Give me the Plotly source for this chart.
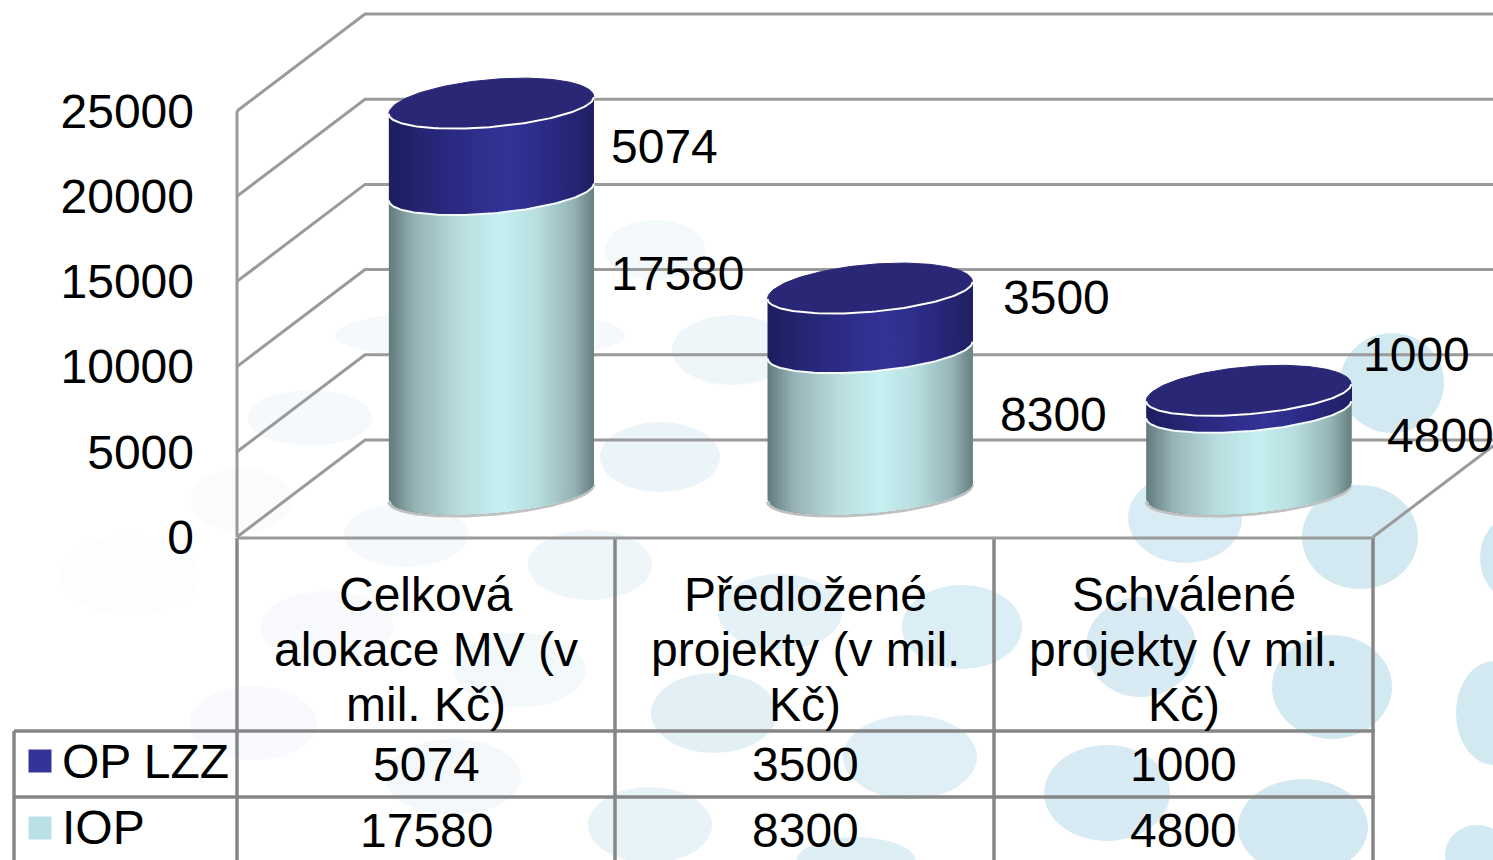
import numpy as np
import plotly.graph_objects as go

W, H = 1493, 860

categories = ["Celková alokace MV (v mil. Kč)", "Předložené projekty (v mil. Kč)", "Schválené projekty (v mil. Kč)"]
category_lines = [["Celková", "alokace MV (v", "mil. Kč)"],
                  ["Předložené", "projekty (v mil.", "Kč)"],
                  ["Schválené", "projekty (v mil.", "Kč)"]]
series_names = ["OP LZZ", "IOP"]
op_lzz = [5074, 3500, 1000]
iop = [17580, 8300, 4800]
y_ticks = [0, 5000, 10000, 15000, 20000, 25000]

# pixel calibration of the two axes
PX_PER_VAL = 426 / 25000
PX_PER_CAT = (1373 - 237) / 3
Y0_PX, X0_PX = 537, 237


def cat_at(px):
    return 0.5 + (px - X0_PX) / PX_PER_CAT


def val_at(py):
    return (Y0_PX - py) / PX_PER_VAL


DX, DY = 128 / PX_PER_CAT, 97 / PX_PER_VAL            # depth of the box
CX, CY = 65 / PX_PER_CAT, 45.5 / PX_PER_VAL           # cylinder offset
A, TILT = 102.5 / PX_PER_CAT, 8.5 / PX_PER_VAL
B_FRONT, B_BACK = 21.5 / PX_PER_VAL, 26 / PX_PER_VAL  # the lid is drawn a little asymmetrically
FONT = "Liberation Sans, Arial, sans-serif"
FS = 48
GRID = "#9a9a9a"
TABLE = "#868686"

fig = go.Figure()


def line(xs, ys, color=GRID, width=3):
    fig.add_trace(go.Scatter(x=xs, y=ys, mode="lines", line=dict(color=color, width=width),
                             hoverinfo="skip", showlegend=False))


# walls and gridlines
right_edge = cat_at(W + 5)
for v in y_ticks:
    line([0.5, 0.5 + DX, right_edge], [v, v + DY, v + DY])
line([0.5, 0.5], [0, 25000])
line([3.5, 3.5 + (W + 5 - 1373) / PX_PER_CAT], [0, (W + 5 - 1373) * 97 / 128 / PX_PER_VAL])


def ramp(stops, u):
    pos = [s[0] for s in stops]
    return "rgb(%d,%d,%d)" % tuple(int(np.interp(u, pos, [s[1][i] for s in stops])) for i in range(3))


BLUE = [(-1, (30, 30, 96)), (-0.6, (39, 39, 120)), (0.15, (52, 52, 153)), (0.6, (42, 42, 130)), (1, (32, 32, 100))]
TEAL = [(-1, (98, 124, 126)), (-0.75, (150, 178, 180)), (-0.3, (186, 222, 224)), (0.1, (198, 240, 241)),
        (0.45, (184, 222, 224)), (0.8, (150, 180, 182)), (1, (104, 128, 130))]


def arc(cx, base, us):
    us = np.asarray(us)
    return cx + A * us, base - B_FRONT * np.sqrt(np.clip(1 - us ** 2, 0, 1)) + TILT * us


def segment(cx, v0, v1, stops):
    # painter's order: each strip runs on to the right edge and is covered by the next, so no seams show
    edges = np.linspace(-1, 1, 81)
    for u0, u1 in zip(edges[:-1], edges[1:]):
        us = np.linspace(u0, 1, 30)
        xa, ya = arc(cx, v0, us)
        xb, yb = arc(cx, v1, us)
        fig.add_trace(go.Scatter(x=np.r_[xa, xb[::-1]], y=np.r_[ya, yb[::-1]], mode="lines", fill="toself",
                                 fillcolor=ramp(stops, (u0 + u1) / 2), line=dict(width=0),
                                 hoverinfo="skip", showlegend=False))


U = -np.cos(np.linspace(0, np.pi, 80))
for i in range(3):
    cx = i + 1 + CX
    low, top = iop[i], iop[i] + op_lzz[i]
    xr, yr = arc(cx, CY - 1.5 / PX_PER_VAL, U)
    line(xr, yr, "#c0c0c0", 3)
    segment(cx, CY, CY + low, TEAL)
    segment(cx, CY + low, CY + top, BLUE)
    xs, ys = arc(cx, CY + low, U)
    line(xs, ys, "#f4fbfb", 2)
    # lid
    xf, yf = arc(cx, CY + top, U)
    tb = U[::-1]
    xback = cx + A * tb
    yback = CY + top + B_BACK * np.sqrt(np.clip(1 - tb ** 2, 0, 1)) + TILT * tb
    fig.add_trace(go.Scatter(x=np.r_[xf, xback], y=np.r_[yf, yback], mode="lines", fill="toself",
                             fillcolor="#2a2876", line=dict(color="#2a2876", width=1),
                             hoverinfo="skip", showlegend=False))
    line(xf, yf, "#ffffff", 2)

# table
T_TOP, T_R1, T_R2 = 538, 731, 797
for px in [237, 615, 994, 1373]:
    line([cat_at(px)] * 2, [val_at(T_TOP), val_at(H + 5)], TABLE, 3.5)
line([cat_at(14)] * 2, [val_at(T_R1), val_at(H + 5)], TABLE, 3.5)
line([cat_at(237), cat_at(1373)], [val_at(T_TOP)] * 2, "#9a9a9a", 3)
for py in [T_R1, T_R2]:
    line([cat_at(14), cat_at(1375)], [val_at(py)] * 2, TABLE, 3.5)

# legend keys
for py, c in [(761, "#333399"), (828, "#b9e0e3")]:
    fig.add_trace(go.Scatter(x=[cat_at(40)], y=[val_at(py)], mode="markers",
                             marker=dict(symbol="square", size=23, color=c), hoverinfo="skip", showlegend=False))

ann = []


def label(x, py, text, anchor="center"):
    ann.append(dict(x=x, y=val_at(py), xref="x", yref="y", text=text, showarrow=False, xanchor=anchor,
                    yanchor="middle", font=dict(family=FONT, size=FS, color="#000000")))


for i in range(3):
    for py, t in zip([594, 649, 704], category_lines[i]):
        label(i + 1, py, t)
    label(i + 1, 764, str(op_lzz[i]))
    label(i + 1, 830, str(iop[i]))
label(cat_at(60), 761, series_names[0], "left")
label(cat_at(60), 827, series_names[1], "left")

# data labels beside the cylinders
label_spots = [(609, 146, op_lzz[0]), (609, 273, iop[0]), (1001, 297, op_lzz[1]),
               (998, 414, iop[1]), (1361, 354, op_lzz[2]), (1385, 435, iop[2])]
for px, py, v in label_spots:
    label(cat_at(px), py, str(v), "left")

# faint background spots: (cx, cy, rx, ry, colour) in page pixels
spots = [
    (241, 500, 50, 32, "#f9fbfd"), (310, 418, 62, 28, "#f6f9fc"), (406, 535, 62, 32, "#f5f9fc"),
    (480, 335, 145, 26, "#f5f9fc"), (655, 250, 50, 30, "#f3f8fb"), (660, 457, 60, 35, "#ebf4f8"),
    (732, 350, 60, 35, "#eff6f9"), (590, 565, 62, 35, "#eef6f9"), (327, 627, 66, 36, "#f7f9fc"),
    (253, 723, 64, 37, "#f8fafd"), (453, 777, 68, 38, "#f4f8fb"), (520, 670, 66, 37, "#f3f8fb"),
    (130, 575, 70, 40, "#fcfdfe"), (650, 825, 62, 38, "#e8f3f7"), (780, 612, 62, 38, "#e4f1f7"),
    (962, 627, 60, 42, "#dceef5"), (714, 713, 63, 40, "#e2f0f6"), (910, 757, 67, 42, "#dfeff5"),
    (856, 862, 60, 25, "#deeef5"), (1107, 793, 63, 48, "#d8ebf4"), (1303, 827, 65, 48, "#d2e9f2"),
    (1332, 687, 60, 52, "#d2e9f2"), (1141, 647, 55, 50, "#d8ebf4"), (1185, 518, 57, 45, "#d9ecf5"),
    (1360, 537, 58, 52, "#d2e9f2"), (1392, 383, 52, 50, "#d2e9f2"), (1494, 713, 38, 52, "#d2e9f2"),
    (1510, 558, 30, 40, "#d2e9f2"), (1477, 855, 32, 30, "#d2e9f2"),
]
shapes = [dict(type="circle", xref="paper", yref="paper", layer="below", line_width=0, fillcolor=c,
               x0=(cx - rx) / W, x1=(cx + rx) / W, y0=1 - (cy + ry) / H, y1=1 - (cy - ry) / H)
          for cx, cy, rx, ry, c in spots]

fig.update_layout(
    width=W, height=H, margin=dict(l=0, r=0, t=0, b=0), paper_bgcolor="white", plot_bgcolor="rgba(0,0,0,0)",
    showlegend=False, annotations=ann, shapes=shapes,
    xaxis=dict(visible=False, range=[cat_at(0), cat_at(W)], domain=[0, 1], fixedrange=True),
    yaxis=dict(range=[val_at(H), val_at(0)], domain=[0, 1], anchor="free", position=X0_PX / W, side="left",
               tickmode="array", tickvals=y_ticks, ticktext=[str(v) for v in y_ticks],
               showgrid=False, zeroline=False, showline=False, ticks="", ticklabelstandoff=43,
               tickfont=dict(family=FONT, size=FS, color="#000000"), fixedrange=True),
)
fig.write_html("out.html", config=dict(displayModeBar=False),
               post_script="document.body.style.margin='0';document.documentElement.style.overflow='hidden';")
